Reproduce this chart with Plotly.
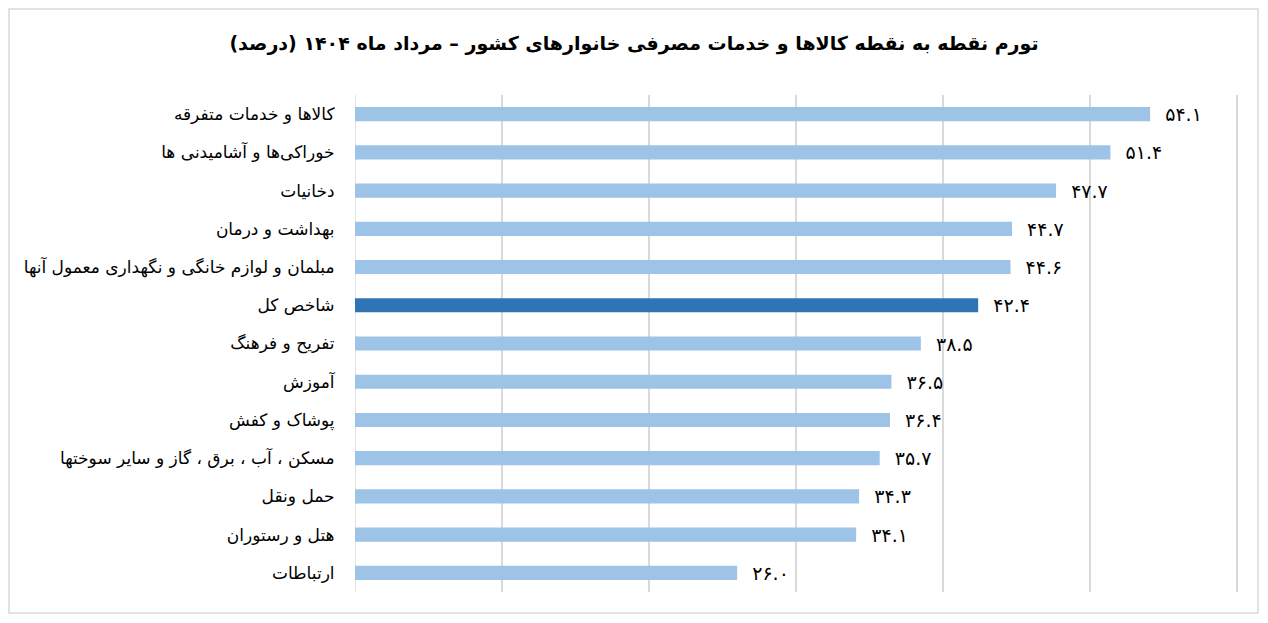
import plotly.graph_objects as go

categories = [
    "کالاها و خدمات متفرقه",
    "خوراکی‌ها و آشامیدنی ها",
    "دخانیات",
    "بهداشت و درمان",
    "مبلمان و لوازم خانگی و نگهداری معمول آنها",
    "شاخص کل",
    "تفریح و فرهنگ",
    "آموزش",
    "پوشاک و کفش",
    "مسکن ، آب ، برق ، گاز و سایر سوختها",
    "حمل ونقل",
    "هتل و رستوران",
    "ارتباطات",
]
values = [54.1, 51.4, 47.7, 44.7, 44.6, 42.4, 38.5, 36.5, 36.4, 35.7, 34.3, 34.1, 26.0]
highlight = "شاخص کل"
title = "تورم نقطه به نقطه کالاها و خدمات مصرفی خانوارهای کشور – مرداد ماه ۱۴۰۴ (درصد)"

PERSIAN = str.maketrans("0123456789", "۰۱۲۳۴۵۶۷۸۹")
labels = ["\u00a0\u00a0" + f"{v:.1f}".translate(PERSIAN) for v in values]
colors = ["#2E75B6" if c == highlight else "#9DC3E6" for c in categories]

# page has an 8px body margin; compensate
W, H = 1252, 607
ml, mr, mt, mb = 347, 22, 87, 23

fig = go.Figure(go.Bar(
    x=values, y=categories, orientation="h",
    marker=dict(color=colors, line=dict(width=0)),
    text=labels, textposition="outside", cliponaxis=False,
    constraintext="none",
    textfont=dict(size=19, color="#000000", family="DejaVu Sans"),
    width=0.37,
))

pw = W - ml - mr
ph = H - mt - mb
fig.update_layout(
    width=W, height=H,
    margin=dict(l=ml, r=mr, t=mt, b=mb),
    paper_bgcolor="white", plot_bgcolor="white",
    title=dict(text=f"<b>{title}</b>", x=0.5, xanchor="center", xref="container",
               y=1 - 35 / H, yanchor="middle",
               font=dict(size=19, color="#000000", family="DejaVu Sans")),
    xaxis=dict(range=[0, 60.08], tickvals=[10, 20, 30, 40, 50, 60],
               showticklabels=False, showgrid=True,
               gridcolor="#D9D9D9", gridwidth=1.5, zeroline=False, showline=False,
               ticks=""),
    yaxis=dict(autorange="reversed", showgrid=False, zeroline=False,
               showline=False, ticks="outside", ticklen=16, tickcolor="white",
               tickfont=dict(size=17, color="#000000", family="DejaVu Sans")),
    showlegend=False,
    shapes=[dict(type="rect", xref="paper", yref="paper",
                 x0=-(ml - 1) / pw, x1=1 + (mr - 2) / pw,
                 y0=-(mb - 2) / ph, y1=1 + (mt - 1) / ph,
                 line=dict(color="#D9D9D9", width=1.5), fillcolor="rgba(0,0,0,0)",
                 layer="below"),
            dict(type="line", xref="x", yref="paper", x0=0, x1=0, y0=0, y1=1,
                 line=dict(color="#D9D9D9", width=1.5), layer="below")],
)

fig.write_html("out.html")
